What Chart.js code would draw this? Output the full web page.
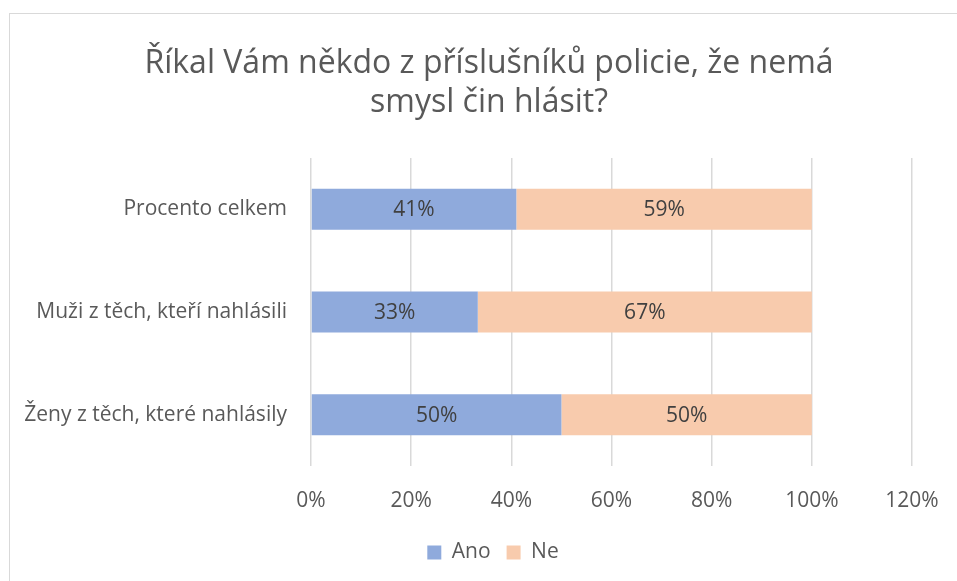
<!DOCTYPE html>
<html>
<head>
<meta charset="utf-8">
<script src="https://cdn.jsdelivr.net/npm/chart.js@4.4.0/dist/chart.umd.min.js"></script>
<style>
  html, body { margin: 0; padding: 0; background: #fff; overflow: hidden; }
  #wrap { position: relative; width: 957px; height: 581px; }
  #frame { position: absolute; left: 9px; top: 13px; width: 1200px; height: 1200px; border: 1px solid #d9d9d9; }
  #c { position: absolute; left: 0; top: 0; }
</style>
</head>
<body>
<div id="wrap">
  <div id="frame"></div>
  <canvas id="c" width="957" height="581"></canvas>
</div>
<script>
  const categories = ["Procento celkem", "Muži z těch, kteří nahlásili", "Ženy z těch, které nahlásily"];
  const ano = [41, 33.3, 50];
  const ne = [59, 66.7, 50];
  const titleLines = ["Říkal Vám někdo z příslušníků policie, že nemá", "smysl čin hlásit?"];

  const FONT = "'Open Sans', sans-serif";
  const GREY = "#595959";

  // title drawn at fixed spot, like the original
  const titlePlugin = {
    id: "fixedTitle",
    afterDraw(chart) {
      const ctx = chart.ctx;
      ctx.save();
      ctx.font = "32px " + FONT;
      ctx.fillStyle = GREY;
      ctx.textAlign = "center";
      ctx.textBaseline = "middle";
      ctx.fillText(titleLines[0], 489, 64);
      ctx.fillText(titleLines[1], 489, 103);
      ctx.restore();
    },
  };

  // let the long category names run left past the layout padding
  const unclipY = {
    id: "unclipY",
    afterLayout(chart) {
      chart.scales.y.left = 0;
    },
  };

  // value labels in the middle of each bar
  const barLabels = {
    id: "barLabels",
    afterDatasetsDraw(chart) {
      const ctx = chart.ctx;
      ctx.save();
      ctx.font = "21px " + FONT;
      ctx.fillStyle = "#404040";
      ctx.textAlign = "center";
      ctx.textBaseline = "middle";
      chart.data.datasets.forEach((ds, i) => {
        chart.getDatasetMeta(i).data.forEach((bar, j) => {
          const p = bar.getProps(["x", "y", "base"], true);
          ctx.fillText(Math.round(ds.data[j]) + "%", (p.x + p.base) / 2, p.y + 1);
        });
      });
      ctx.restore();
    },
  };

  new Chart(document.getElementById("c"), {
    type: "bar",
    data: {
      labels: categories,
      datasets: [
        { label: "Ano", data: ano, backgroundColor: "#8faadc" },
        { label: "Ne", data: ne, backgroundColor: "#f8cbad" },
      ],
    },
    options: {
      indexAxis: "y",
      responsive: false,
      animation: false,
      devicePixelRatio: 1,
      layout: { padding: { top: 158, left: 74, right: 45, bottom: 8 } },
      datasets: { bar: { barPercentage: 0.4, categoryPercentage: 1 } },
      scales: {
        x: {
          stacked: true,
          min: 0,
          max: 120,
          ticks: {
            stepSize: 20,
            padding: 5,
            color: GREY,
            font: { family: FONT, size: 21 },
            callback: (v) => v + "%",
          },
          // invisible tick marks push the labels down without widening the side padding
          grid: { color: "#d9d9d9", lineWidth: 1.5, drawTicks: true, tickLength: 17, tickColor: "rgba(0,0,0,0)" },
          border: { display: false },
          afterFit(s) { s.height = 60; },
        },
        y: {
          stacked: true,
          ticks: {
            padding: 16,
            color: GREY,
            font: { family: FONT, size: 21 },
          },
          grid: { display: false },
          border: { display: false },
          afterFit(s) { s.width = 311 - 74; },
        },
      },
      plugins: {
        title: { display: false },
        tooltip: { enabled: false },
        legend: {
          position: "bottom",
          labels: {
            boxWidth: 14,
            boxHeight: 14,
            padding: 16,
            color: GREY,
            font: { family: FONT, size: 21 },
          },
        },
      },
    },
    plugins: [titlePlugin, unclipY, barLabels],
  });
</script>
</body>
</html>
